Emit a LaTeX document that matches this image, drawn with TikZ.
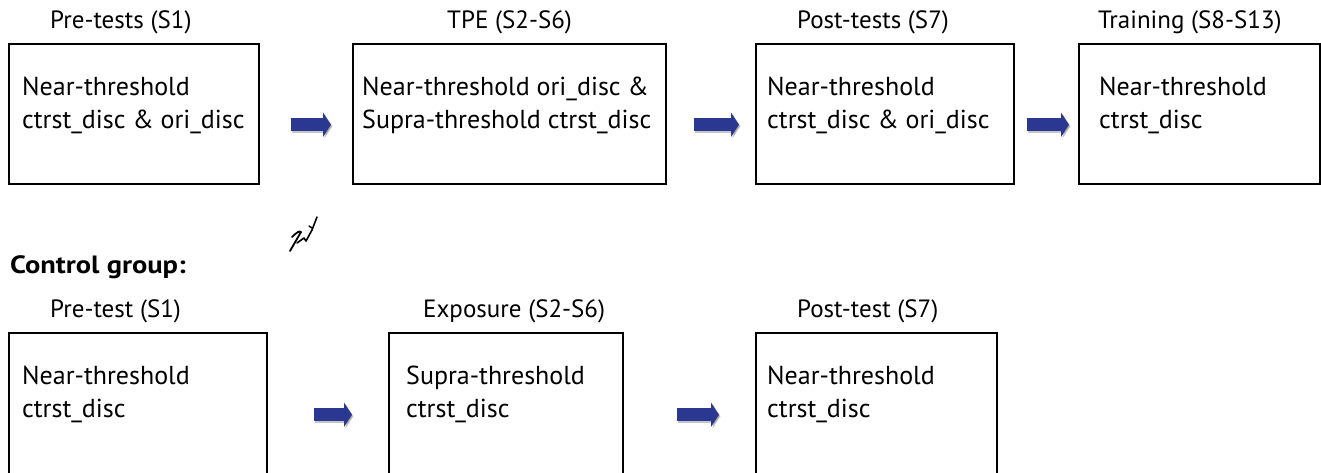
\documentclass[tikz,border=0pt]{standalone}
\usepackage{fontspec}
\setmainfont{PT Sans}
\usetikzlibrary{arrows.meta,shadows}
\definecolor{arrowblue}{RGB}{42,56,146}
\tikzset{
  box/.style={draw=black, line width=1.5pt, fill=white, anchor=north west, inner sep=0pt,
    drop shadow={shadow xshift=1.5pt, shadow yshift=-1.5pt, opacity=0.35, fill=black!60}},
  boxtext/.style={anchor=base west, inner sep=0pt, font=\fontsize{26}{33}\selectfont},
  title/.style={anchor=base west, inner sep=0pt, font=\fontsize{25}{30}\selectfont},
  blockarrow/.style={line width=13pt, draw=arrowblue, -{Triangle[length=8pt,width=24pt]}},
  arrowshadow/.style={line width=13pt, draw=black!45, opacity=0.5, -{Triangle[length=8pt,width=24pt]}},
}
\begin{document}
\begin{tikzpicture}[x=1pt,y=-1pt]
\useasboundingbox (0,0) rectangle (1321,472);
\clip (0,0) rectangle (1321,472);
% row 1 boxes
\node[box, minimum width=250pt, minimum height=140pt] (b1) at (8,43) {};
\node[box, minimum width=313pt, minimum height=140pt] (b2) at (352,43) {};
\node[box, minimum width=258pt, minimum height=140pt] (b3) at (755,43) {};
\node[box, minimum width=241pt, minimum height=140pt] (b4) at (1078,43) {};
% row 2 boxes
\node[box, minimum width=258pt, minimum height=150pt] (b5) at (8,332) {};
\node[box, minimum width=234pt, minimum height=150pt] (b6) at (388,332) {};
\node[box, minimum width=241pt, minimum height=150pt] (b7) at (755,332) {};
% titles
\node[title] (t1) at (50,28) {Pre-tests (S1)};
\node[title] (t2) at (447,28) {TPE (S2-S6)};
\node[title] (t3) at (797,28) {Post-tests (S7)};
\node[title] (t4) at (1098,28) {Training (S8-S13)};
\node[title, font=\fontsize{25}{30}\selectfont\bfseries\addfontfeature{FakeStretch=1.14}] (cg) at (10,273) {Control group:};
\node[title] (t5) at (50,317) {Pre-test (S1)};
\node[title] (t6) at (423,317) {Exposure (S2-S6)};
\node[title] (t7) at (797,317) {Post-test (S7)};
% box texts
\node[boxtext] (b1a) at (22,95) {Near-threshold};
\node[boxtext] (b1b) at (22,128) {ctrst\_disc \& ori\_disc};
\node[boxtext] (b2a) at (362,95) {Near-threshold ori\_disc \&};
\node[boxtext] (b2b) at (362,128) {Supra-threshold ctrst\_disc};
\node[boxtext] (b3a) at (767,95) {Near-threshold};
\node[boxtext] (b3b) at (767,128) {ctrst\_disc \& ori\_disc};
\node[boxtext] (b4a) at (1099,95) {Near-threshold};
\node[boxtext] (b4b) at (1099,128) {ctrst\_disc};
\node[boxtext] (b5a) at (22,384) {Near-threshold};
\node[boxtext] (b5b) at (22,417) {ctrst\_disc};
\node[boxtext] (b6a) at (406,384) {Supra-threshold};
\node[boxtext] (b6b) at (406,417) {ctrst\_disc};
\node[boxtext] (b7a) at (767,384) {Near-threshold};
\node[boxtext] (b7b) at (767,417) {ctrst\_disc};
% arrows row 1 (centre y 124)
\foreach \a/\b/\s/\e in {b1/b2/31/21, b2/b3/27/16, b3/b4/12/9}{
  \draw[arrowshadow, shorten <=\s pt, shorten >=\e pt] ([shift={(1.5pt,-12.5pt)}]\a.east) -- ([shift={(1.5pt,-12.5pt)}]\b.west);
  \draw[blockarrow, shorten <=\s pt, shorten >=\e pt] ([yshift=-11pt]\a.east) -- ([yshift=-11pt]\b.west);
}
% arrows row 2 (centre y 414)
\foreach \a/\b/\s/\e in {b5/b6/46/36, b6/b7/53/36}{
  \draw[arrowshadow, shorten <=\s pt, shorten >=\e pt] ([shift={(1.5pt,-8.5pt)}]\a.east) -- ([shift={(1.5pt,-8.5pt)}]\b.west);
  \draw[blockarrow, shorten <=\s pt, shorten >=\e pt] ([yshift=-7pt]\a.east) -- ([yshift=-7pt]\b.west);
}
% handwritten mark
\draw[line width=1.8pt, line cap=round, line join=round]
  (292,237) .. controls (296,233) and (300,230) .. (301,232) -- (290,251);
\draw[line width=1.6pt, line cap=round, line join=round]
  (297,243) -- (304,238) -- (306,241) -- (312,230) -- (317,217);
\draw[line width=1.4pt, line cap=round] (312,228) -- (309,226);
\end{tikzpicture}
\end{document}
